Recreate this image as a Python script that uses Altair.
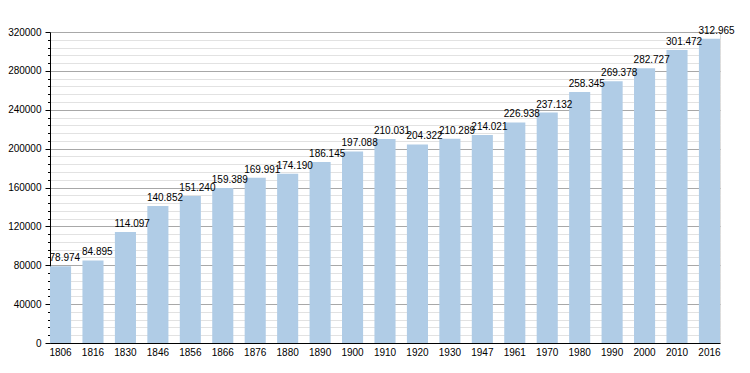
import altair as alt
import pandas as pd

years = ["1806", "1816", "1830", "1846", "1856", "1866", "1876", "1880", "1890", "1900",
         "1910", "1920", "1930", "1947", "1961", "1970", "1980", "1990", "2000", "2010", "2016"]
population = [78974, 84895, 114097, 140852, 151240, 159389, 169991, 174190, 186145, 197088,
              210031, 204322, 210289, 214021, 226938, 237132, 258345, 269378, 282727, 301472, 312965]

df = pd.DataFrame({"year": years, "pop": population})

FONT = "Liberation Sans"

x = alt.X("year:N", sort=None, title=None,
          scale=alt.Scale(paddingInner=0.35, paddingOuter=0),
          axis=alt.Axis(labelAngle=0, ticks=False, domainColor="black", labelFont=FONT,
                        labelFontSize=10, labelColor="black", labelPadding=4, grid=False))

y = alt.Y("pop:Q", title=None,
          scale=alt.Scale(domain=[0, 320000], nice=False, zero=True),
          axis=alt.Axis(values=list(range(0, 320001, 8000)), format="d",
                        labelExpr="datum.value % 40000 === 0 ? datum.label : ''",
                        labelOverlap=False, tickCount=41, zindex=0,
                        tickSize={"condition": {"test": "datum.value % 40000 === 0", "value": 5}, "value": 2.5},
                        tickColor="black", domainColor="black",
                        gridColor={"condition": {"test": "datum.value % 40000 === 0", "value": "#a8a8a8"}, "value": "#e2e2e2"},
                        gridWidth=1, labelFont=FONT, labelFontSize=10, labelColor="black",
                        labelPadding=4))

bars = alt.Chart(df).mark_bar(color="#b0cce6", opacity=1, fillOpacity=1).encode(x=x, y=y)

labels = alt.Chart(df).transform_calculate(
    lab="replace(format(datum.pop, ','), ',', '.')"
).mark_text(baseline="alphabetic", align="left", dx=-11, dy=-5, font=FONT, fontSize=10, color="black").encode(
    x=x, y=y, text="lab:N")

chart = alt.layer(bars, labels).properties(
    width=670, height=311,
    autosize=alt.AutoSizeParams(type="none"),
    padding={"left": 42, "top": 24, "right": 20, "bottom": 22},
).configure_view(stroke=None).configure(background="white")

chart.save("out.html", embed_options={"renderer": "svg", "actions": False})
